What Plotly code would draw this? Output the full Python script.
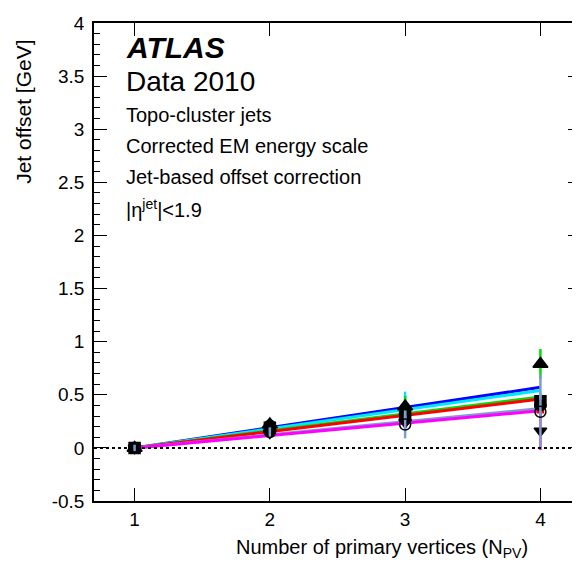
import plotly.graph_objects as go

# ---- data ----
npv = [1, 2, 3, 4]
fit_x = [1, 4]
y_tickvals = [-0.5, 0, 0.5, 1, 1.5, 2, 2.5, 3, 3.5, 4]
y_ticktext = ["-0.5", "0", "0.5", "1", "1.5", "2", "2.5", "3", "3.5", "4"]

series_names = ["blue", "cyan", "green", "red", "grayblue", "magenta"]
series_colors = ["#0000ff", "#00e8ff", "#00dd00", "#ff0000", "#7f9ccc", "#ff00ff"]
fit_end = [0.57, 0.54, 0.48, 0.46, 0.37, 0.35]  # fit value at NPV=4 (0 at NPV=1)

pts_blue = [0.0, 0.19, 0.31, 0.44]
pts_cyan = [0.0, 0.21, 0.36, 0.40]
pts_green = [0.0, 0.22, 0.39, 0.79]
pts_red = [0.0, 0.17, 0.28, 0.36]
pts_grayblue = [0.0, 0.15, 0.22, 0.34]
pts_magenta = [0.0, 0.14, 0.24, 0.16]

err_blue = [0.02, 0.03, 0.05, 0.06]
err_cyan = [0.02, 0.04, 0.17, 0.12]
err_green = [0.02, 0.05, 0.10, 0.14]
err_red = [0.02, 0.03, 0.05, 0.06]
err_grayblue = [0.03, 0.05, 0.13, 0.35]
err_magenta = [0.02, 0.04, 0.06, 0.18]

points = [pts_blue, pts_cyan, pts_green, pts_red, pts_grayblue, pts_magenta]
errors = [err_blue, err_cyan, err_green, err_red, err_grayblue, err_magenta]
symbols = ["square", "circle", "triangle-up", "square", "circle-open", "triangle-down"]
marker_colors = ["black", "black", "black", "#ff0000", "black", "black"]
marker_sizes = [11, 11, 13, 6, 11, 11]

W, H = 580, 574
OFF = 8  # page body margin
L, R, T, B = 86, 6, 5, 81
PW, PH = W - L - R, H - T - B

def px(x):
    return (x - OFF - L) / PW

def py(y):
    return (H - B - (y - OFF)) / PH

fig = go.Figure()

# fit lines
for name, col, fe in zip(series_names, series_colors, fit_end):
    fig.add_trace(go.Scatter(x=fit_x, y=[0.0, fe], mode="lines",
                             line=dict(color=col, width=3), showlegend=False,
                             hoverinfo="skip"))

# data points with error bars
draw_order = [3, 0, 1, 2, 5, 4]
for i in draw_order:
    fig.add_trace(go.Scatter(
        x=npv, y=points[i], mode="markers",
        marker=dict(symbol=symbols[i], size=marker_sizes[i],
                    color=marker_colors[i],
                    line=dict(color="black" if i != 3 else "#ff0000", width=1.5)),
        error_y=dict(type="data", array=errors[i], color=series_colors[i],
                     thickness=2.5, width=0),
        showlegend=False))

fig.add_shape(type="line", xref="paper", x0=0, x1=1, yref="y", y0=0, y1=0,
              line=dict(color="black", width=2, dash="dot"))

font = "Liberation Sans, Arial, Helvetica, sans-serif"
fig.update_layout(
    width=W, height=H,
    margin=dict(l=L, r=R, t=T, b=B),
    paper_bgcolor="white", plot_bgcolor="white",
    font=dict(family=font, size=19, color="black"),
    xaxis=dict(range=[0.7, 4.3], tickvals=[1, 2, 3, 4], ticks="inside",
               ticklen=13, tickwidth=1, tickcolor="black",
               showline=True, linecolor="black", linewidth=1.5, mirror="ticks",
               showgrid=False, zeroline=False, ticklabelstandoff=0,
               ticklabeloverflow="allow", tickfont=dict(size=19)),
    yaxis=dict(range=[-0.5, 4], tickvals=y_tickvals, ticktext=y_ticktext,
               ticks="inside", ticklen=13, tickwidth=1, tickcolor="black",
               minor=dict(dtick=0.1, tick0=0, ticklen=6, ticks="inside", tickcolor="black"),
               showline=True, linecolor="black", linewidth=1.5, mirror="ticks",
               showgrid=False, zeroline=False, ticklabelstandoff=4,
               ticklabeloverflow="allow", tickfont=dict(size=19)),
)

ann = [
    dict(text="<b><i>ATLAS</i></b>", x=px(124), y=py(38), size=30),
    dict(text="Data 2010", x=px(124), y=py(73), size=28),
    dict(text="Topo-cluster jets", x=px(124), y=py(107), size=20),
    dict(text="Corrected EM energy scale", x=px(124), y=py(139), size=20),
    dict(text="Jet-based offset correction", x=px(124), y=py(170), size=20),
    dict(text="|η<sup>jet</sup>|<1.9", x=px(124), y=py(202), size=20),
]
for a in ann:
    fig.add_annotation(text=a["text"], xref="paper", yref="paper", x=a["x"], y=a["y"],
                       xanchor="left", yanchor="middle", showarrow=False,
                       font=dict(size=a["size"], family=font, color="black"))

fig.add_annotation(text="Number of primary vertices (N<sub>PV</sub>)", xref="paper", yref="paper",
                   x=px(531), y=py(549), xanchor="right", yanchor="middle", showarrow=False,
                   font=dict(size=20, family=font))
fig.add_annotation(text="Jet offset [GeV]", xref="paper", yref="paper",
                   x=px(24), y=py(28), xanchor="center", yanchor="top", textangle=-90,
                   showarrow=False, font=dict(size=21, family=font))

fig.write_html("out.html")
